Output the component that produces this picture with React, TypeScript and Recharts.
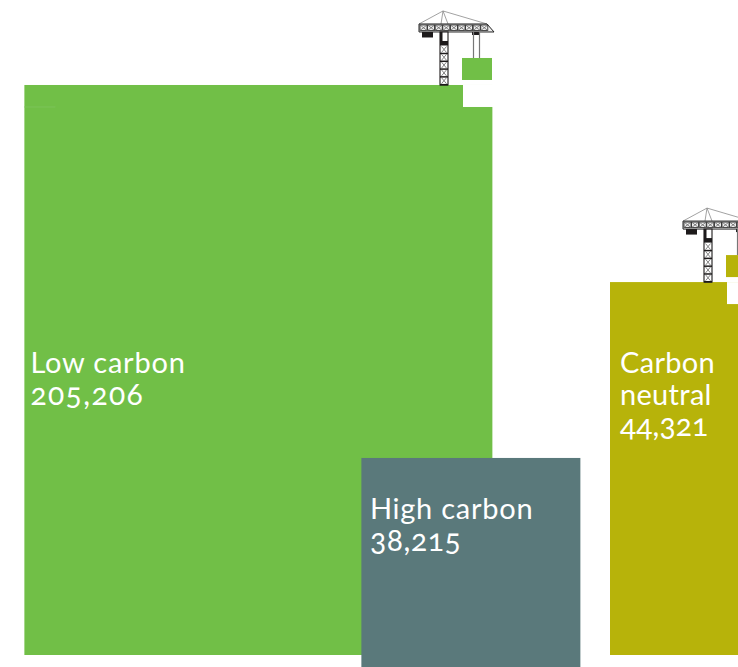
import React from "react";
import { BarChart, Bar, XAxis, YAxis } from "recharts";

// Emissions categories and their totals
const categories = ["Low carbon", "High carbon", "Carbon neutral"];
const labelLines = [["Low carbon"], ["High carbon"], ["Carbon", "neutral"]];
const values = [205206, 38215, 44321];

// Block layout, in axis units: a block's area is proportional to its value
const CHART_W = 738;
const CHART_H = 667;
const BASELINE_PX = 655;
const AREA_PER_UNIT = 1.3;
const blockLefts = [24, 361, 610];
const blockWidths = [468, 219, 154.5];
const blockBases = [0, -29.8, 0];
const blockColors = ["#71bf47", "#5a797b", "#b7b30a"];
const hasCrane = [true, false, true];
const NOTCH_W = 30;
const NOTCH_H = 22;

// Label typesetting per block
const labelInsets = [6, 8.5, 10];
const nameSpacing = [0.8, 0.75, 0.3];
const numberSpacing = [1.4, 0.6, 0.1];

const rows = categories.map((name, i) => ({
  name,
  value: values[i],
  centre: blockLefts[i] + blockWidths[i] / 2,
  base: blockBases[i],
  top: blockBases[i] + (values[i] * AREA_PER_UNIT) / blockWidths[i],
}));

const FONT = "Lato, 'Open Sans', sans-serif";

// Tower crane standing on the block; (nx, ty) is the notch corner at the block's top
function Crane({ nx, ty, color }: { nx: number; ty: number; color: string }) {
  const jibX = nx - 44;
  const jibY = ty - 61;
  const cells: React.ReactNode[] = [];
  for (let i = 0; i < 9; i++) {
    const x = jibX + 1 + i * 7.6;
    cells.push(
      <g key={`j${i}`} stroke="#222" strokeWidth={0.8} fill="none">
        <rect x={x} y={jibY + 1} width={7} height={5.5} />
        <path d={`M${x} ${jibY + 1}l7 5.5M${x + 7} ${jibY + 1}l-7 5.5`} stroke="#666" />
      </g>,
    );
  }
  const mastX = nx - 23;
  const mast: React.ReactNode[] = [];
  for (let i = 0; i < 5; i++) {
    const y = ty - 38.5 + i * 7.8;
    mast.push(
      <g key={`m${i}`} fill="none">
        <path d={`M${mastX + 1.5} ${y}l5 6M${mastX + 6.5} ${y}l-5 6`} stroke="#666" strokeWidth={0.8} />
        <path d={`M${mastX} ${y + 7}h8`} strokeWidth={1.5} stroke="#1d1a1b" />
      </g>,
    );
  }
  return (
    <g>
      <rect x={nx} y={ty} width={NOTCH_W} height={NOTCH_H} fill="#fff" />
      {/* stays */}
      <path
        d={`M${jibX} ${jibY}L${nx - 20} ${ty - 74}L${jibX + 68} ${jibY}M${nx - 20} ${ty - 74}L${mastX + 1} ${jibY}M${nx - 20} ${ty - 74}L${mastX + 8} ${jibY}`}
        stroke="#8a8a8a"
        strokeWidth={0.8}
        fill="none"
      />
      {/* jib */}
      <path
        d={`M${jibX} ${jibY}H${jibX + 68}L${jibX + 75} ${jibY + 8}H${jibX}Z`}
        fill="#eeeeee"
        stroke="#222"
        strokeWidth={1}
      />
      {cells}
      {/* counterweight */}
      <rect x={jibX + 3} y={jibY + 8} width={11} height={5.5} fill="#1d1a1b" />
      <rect x={jibX + 53} y={jibY + 8} width={7} height={3} fill="#1d1a1b" />
      {/* hoist cables and load */}
      <path
        d={`M${jibX + 54.5} ${jibY + 8}v26M${jibX + 60.5} ${jibY + 8}v26`}
        stroke="#777"
        strokeWidth={1.2}
        fill="none"
      />
      <rect x={nx - 1} y={ty - 27} width={NOTCH_W} height={22} fill={color} />
      {/* mast */}
      <rect x={mastX} y={jibY + 8} width={8} height={ty - jibY - 8} fill="#fff" stroke="#1d1a1b" strokeWidth={1.1} />
      <rect x={mastX} y={jibY + 8} width={2.5} height={13} fill="#1d1a1b" />
      <rect x={mastX} y={jibY + 17} width={8} height={4.5} fill="#1d1a1b" />
      {mast}
    </g>
  );
}

function Block(index: number) {
  return function BlockShape(props: any) {
    const { x, y, width, height } = props;
    if (!height || !width || Number.isNaN(height)) return null;
    const color = blockColors[index];
    const lines = [...labelLines[index], values[index].toLocaleString("en-US")];
    const wide = blockWidths[index];
    const left = x + width / 2 - wide / 2;
    const firstBaseline = index === 1 ? 519 : 373;
    const step = index === 1 ? 32 : 31.5;
    return (
      <g>
        <rect x={left} y={y} width={wide} height={height} fill={color} />
        {hasCrane[index] && <Crane nx={index === 0 ? 463 : 727} ty={y} color={color} />}
        {index === 0 && <rect x={left} y={y + 21.5} width={31} height={1} fill="#7cc45a" />}
        {lines.map((line, i) => {
          const isNumber = i === lines.length - 1;
          return (
            <text
              key={line}
              x={left + labelInsets[index]}
              y={firstBaseline + i * step}
              fill="#fff"
              fontFamily={FONT}
              fontSize={isNumber ? 30 : 29}
              letterSpacing={isNumber ? numberSpacing[index] : nameSpacing[index]}
              style={{ fontFeatureSettings: '"onum"' }}
            >
              {line}
            </text>
          );
        })}
      </g>
    );
  };
}

export default function App() {
  return (
    <div style={{ position: "absolute", left: 0, top: 0, width: CHART_W, height: CHART_H, overflow: "hidden" }}>
      <BarChart
        width={CHART_W}
        height={CHART_H}
        data={rows}
        margin={{ top: 0, right: 0, bottom: 0, left: 0 }}
      >
        {categories.map((name) => (
          <XAxis
            key={name}
            xAxisId={name}
            dataKey="centre"
            type="number"
            domain={[0, CHART_W]}
            allowDataOverflow
            hide
          />
        ))}
        <YAxis type="number" domain={[BASELINE_PX - CHART_H, BASELINE_PX]} allowDataOverflow hide />
        {categories.map((name, i) => (
          <Bar
            key={name}
            xAxisId={name}
            barSize={blockWidths[i]}
            dataKey={(row: any) => (row.name === name ? [row.base, row.top] : null)}
            shape={Block(i)}
            isAnimationActive={false}
          />
        ))}
      </BarChart>
    </div>
  );
}
